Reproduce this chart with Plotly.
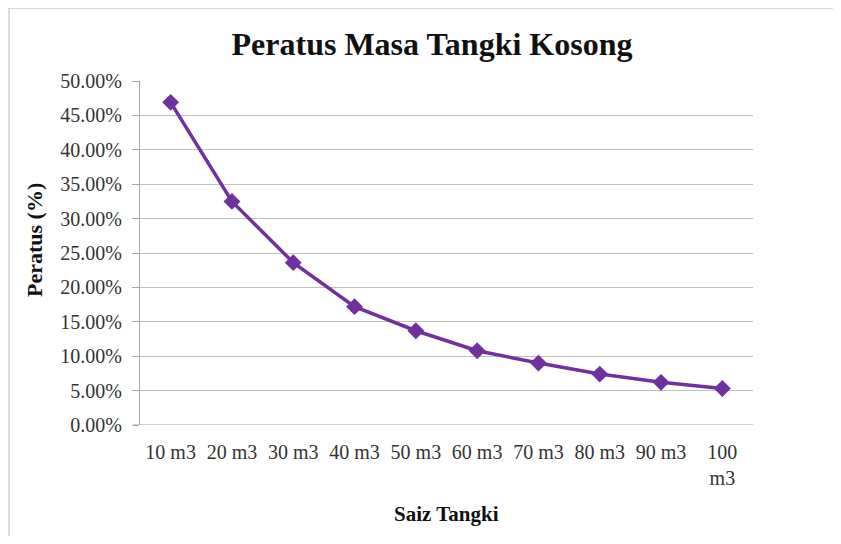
import plotly.graph_objects as go

categories = ["10 m3", "20 m3", "30 m3", "40 m3", "50 m3", "60 m3", "70 m3", "80 m3", "90 m3", "100<br>m3"]
values = [0.469, 0.325, 0.236, 0.172, 0.137, 0.108, 0.090, 0.074, 0.062, 0.053]
y_ticks = [0.0, 0.05, 0.10, 0.15, 0.20, 0.25, 0.30, 0.35, 0.40, 0.45, 0.50]

# page is offset by the default 8px body margin; keep the page from scrolling
OFF = 8
W, H = 841 - OFF, 544 - 2 * OFF
# plot area in page pixels: x 140..753, y 81..425
PL, PR, PT, PB = 140, 753, 81, 425
L, R, T, B = PL - OFF, W - (PR - OFF), PT - OFF, H - (PB - OFF)
pw, ph = W - L - R, H - T - B

def px(x):
    return (x - PL) / pw

def py(y):
    return (PB - y) / ph

serif = "Liberation Serif, Times New Roman, serif"

fig = go.Figure()
fig.add_trace(go.Scatter(
    x=categories, y=values, mode="lines+markers",
    line=dict(color="#7030A0", width=3.5),
    marker=dict(symbol="diamond", size=13, color="#7030A0"),
    showlegend=False,
))

fig.update_layout(
    width=W, height=H, autosize=False,
    margin=dict(l=L, r=R, t=T, b=B),
    paper_bgcolor="white", plot_bgcolor="white",
    title=dict(text="<b>Peratus Masa Tangki Kosong</b>", x=(432 - OFF) / W, xanchor="center",
               y=1 - (44 - OFF) / H, yanchor="middle",
               font=dict(family=serif, size=32, color="#111111")),
    font=dict(family=serif, color="#333333"),
)
fig.update_xaxes(
    type="category", tickvals=categories, ticktext=categories,
    showgrid=False, showline=False, zeroline=False,
    ticks="outside", ticklen=9, tickcolor="rgba(0,0,0,0)",
    tickfont=dict(family=serif, size=20, color="#333333"),
    range=[-0.5, len(categories) - 0.5], tickangle=0,
)
fig.update_yaxes(
    range=[0, 0.5], tickvals=y_ticks, tickformat=".2%",
    showgrid=True, gridcolor="#BFBFBF", gridwidth=1,
    showline=True, linecolor="#A6A6A6", linewidth=1, zeroline=False,
    ticks="outside", ticklen=7, tickcolor="#A6A6A6",
    ticklabelstandoff=6,
    tickfont=dict(family=serif, size=20, color="#333333"),
)
fig.add_shape(type="line", xref="paper", yref="y", x0=px(133), x1=1, y0=0, y1=0,
              line=dict(color="#A6A6A6", width=1))

fig.add_annotation(text="<b>Peratus (%)</b>", xref="paper", yref="paper",
                   x=px(34), y=py(240), textangle=-90, showarrow=False,
                   xanchor="center", yanchor="middle",
                   font=dict(family=serif, size=22, color="#111111"))
fig.add_annotation(text="<b>Saiz Tangki</b>", xref="paper", yref="paper",
                   x=px(447), y=py(514), showarrow=False,
                   xanchor="center", yanchor="middle",
                   font=dict(family=serif, size=21, color="#111111"))

fig.add_shape(type="rect", xref="paper", yref="paper",
              x0=px(9), x1=px(870), y0=py(600), y1=py(8),
              line=dict(color="#D0D0D0", width=1.5), layer="below")

fig.write_html("out.html")
